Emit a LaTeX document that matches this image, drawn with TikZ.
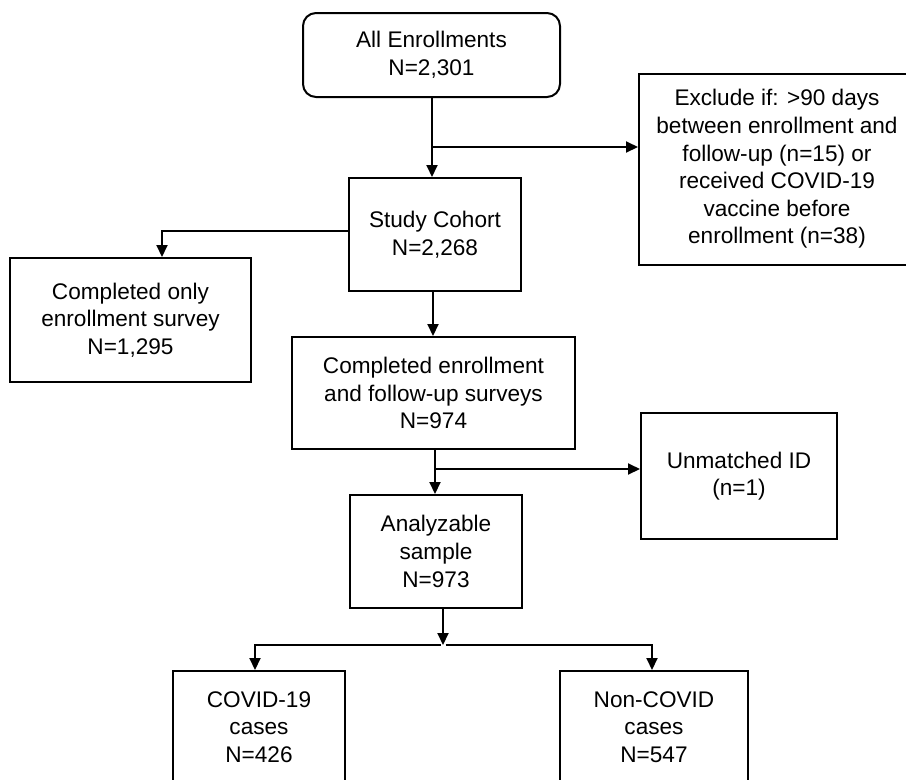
\documentclass[tikz,border=0pt]{standalone}
\usepackage{fontspec}
\setmainfont{Liberation Sans}
\usetikzlibrary{arrows.meta}
\begin{document}
\begin{tikzpicture}[x=1pt,y=-1pt,
  every node/.style={font=\fontsize{22.6}{27.6}\selectfont, align=center, inner sep=0pt, text=black},
  fbox/.style={draw=black, line width=2pt, rectangle},
  conn/.style={draw=black, line width=2pt},
  arr/.style={conn, -{Triangle[length=12pt,width=11pt]}}]
\useasboundingbox (0,0) rectangle (906,780);
\fill[white] (0,0) rectangle (906,780);

\node[fbox, rounded corners=13pt, minimum width=257pt, minimum height=84pt] (all) at (431.5,55) {All Enrollments\\N=2,301};
\node[fbox, minimum width=276pt, minimum height=191pt] (excl) at (777,169) {Exclude if: >90 days\\between enrollment and\\follow-up (n=15) or\\received COVID-19\\vaccine before\\enrollment (n=38)};
\node[fbox, minimum width=172pt, minimum height=113pt] (cohort) at (435,234.5) {Study Cohort\\N=2,268};
\node[fbox, minimum width=241pt, minimum height=124pt] (only) at (130.5,320) {Completed only\\enrollment survey\\N=1,295};
\node[fbox, minimum width=283pt, minimum height=112pt] (compl) at (433.5,393) {Completed enrollment\\and follow-up surveys\\N=974};
\node[fbox, minimum width=196pt, minimum height=126pt] (unm) at (739,476) {Unmatched ID\\(n=1)};
\node[fbox, minimum width=172pt, minimum height=113pt] (anal) at (436,551.5) {Analyzable\\sample\\N=973};
\node[fbox, minimum width=172pt, minimum height=112pt] (covid) at (259,727) {COVID-19\\cases\\N=426};
\node[fbox, minimum width=188pt, minimum height=112pt] (noncovid) at (654,727) {Non-COVID\\cases\\N=547};

% All -> Cohort, branch to Exclude
\coordinate (b1) at (432,147);
\draw[arr] (b1 |- all.south) -- (b1 |- cohort.north);
\draw[arr] (b1) -- (b1 -| excl.west);

% Cohort -> Completed only
\coordinate (c1) at (162,231);
\draw[arr] (cohort.west |- c1) -| (c1 |- only.north);

% Cohort -> Completed
\coordinate (d1) at (433,300);
\draw[arr] (d1 |- cohort.south) -- (d1 |- compl.north);

% Completed -> Analyzable, branch to Unmatched
\coordinate (b2) at (435,469);
\draw[arr] (b2 |- compl.south) -- (b2 |- anal.north);
\draw[arr] (b2) -- (b2 -| unm.west);

% Analyzable -> split
\coordinate (t) at (443,645);
\coordinate (cl) at (255,645);
\coordinate (cr) at (652,645);
\draw[arr] (t |- anal.south) -- (t);
\draw[arr] ([xshift=-2.5pt]t) -- (cl) -- (cl |- covid.north);
\draw[arr] ([xshift=2.5pt]t) -- (cr) -- (cr |- noncovid.north);
\end{tikzpicture}
\end{document}
